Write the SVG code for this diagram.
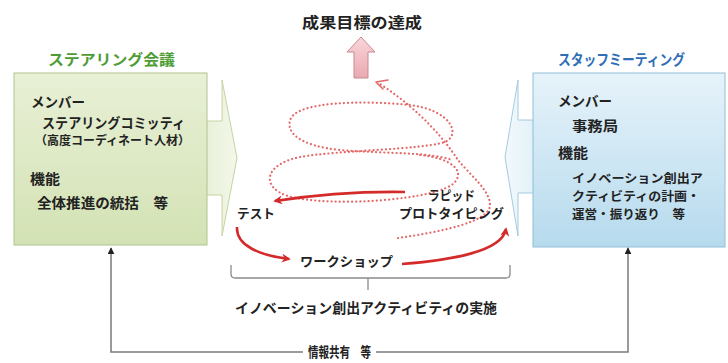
<svg xmlns="http://www.w3.org/2000/svg" width="728" height="363" viewBox="0 0 728 363">
<defs>
<linearGradient id="gBox" x1="0" y1="0" x2="0" y2="1"><stop offset="0" stop-color="#e8f0d6"/><stop offset="1" stop-color="#d3e2b4"/></linearGradient>
<linearGradient id="bBox" x1="0" y1="0" x2="0" y2="1"><stop offset="0" stop-color="#e6f3fa"/><stop offset="1" stop-color="#b6daed"/></linearGradient>
<linearGradient id="gArr" x1="0" y1="0" x2="1" y2="0"><stop offset="0" stop-color="#d6e4bc"/><stop offset="1" stop-color="#f3f7e9"/></linearGradient>
<linearGradient id="bArr" x1="0" y1="0" x2="1" y2="0"><stop offset="0" stop-color="#f2f9fc"/><stop offset="1" stop-color="#c0e0f0"/></linearGradient>
<linearGradient id="pArr" x1="0" y1="0" x2="0" y2="1"><stop offset="0" stop-color="#f9d6da"/><stop offset="1" stop-color="#e9a9b1"/></linearGradient>
<marker id="redHead" viewBox="0 0 10 10" refX="8" refY="5" markerWidth="9" markerHeight="9" markerUnits="userSpaceOnUse" orient="auto"><path d="M0,0 L10,5 L0,10 L3,5 Z" fill="#d42a2a"/></marker>
<marker id="grayHead" viewBox="0 0 10 10" refX="9" refY="5" markerWidth="7" markerHeight="7" markerUnits="userSpaceOnUse" orient="auto"><path d="M0,0 L10,5 L0,10 Z" fill="#222"/></marker>
<style>
text{font-family:"Noto Sans CJK JP","Noto Sans",sans-serif;font-weight:700;fill:#222}
.t14{font-size:14px}
.t13{font-size:13px}
.t12{font-size:12px}
.title{font-size:15px}
.dot{fill:none;stroke:#e46868;stroke-width:2.2;stroke-dasharray:0.1 4;stroke-linecap:round}
.red{fill:none;stroke:#d42a2a;stroke-width:2.6;marker-end:url(#redHead)}
.gray{fill:none;stroke:#7a7a7a;stroke-width:1.5}
</style>
</defs>
<rect width="728" height="363" fill="#ffffff"/>

<g id="steering">
<path d="M150,121 L222,121 L222,80 L237,158 L222,236 L222,195 L150,195 Z" fill="url(#gArr)" stroke="#c4d4a4" stroke-width="1"/>
<rect x="14" y="73" width="193" height="172" fill="url(#gBox)" stroke="#afc48e" stroke-width="1"/>
<text class="title" x="48" y="65" textLength="127" lengthAdjust="spacingAndGlyphs" style="fill:#4e9c34">ステアリング会議</text>
<text class="t14" x="31" y="107" textLength="54" lengthAdjust="spacingAndGlyphs">メンバー</text>
<text class="t14" x="42" y="128" textLength="143" lengthAdjust="spacingAndGlyphs">ステアリングコミッティ</text>
<text class="t12" x="35" y="145" textLength="155" lengthAdjust="spacingAndGlyphs">（高度コーディネート人材）</text>
<text class="t14" x="30" y="184" textLength="30" lengthAdjust="spacingAndGlyphs">機能</text>
<text class="t14" x="37" y="208" textLength="131" lengthAdjust="spacingAndGlyphs">全体推進の統括　等</text>
</g>

<g id="staff">
<path d="M600,120 L518,120 L518,80 L505,157 L518,236 L518,193 L600,193 Z" fill="url(#bArr)" stroke="#a6cade" stroke-width="1"/>
<rect x="533" y="73" width="192" height="174" fill="url(#bBox)" stroke="#92bed6" stroke-width="1"/>
<text class="title" x="558" y="65" textLength="127" lengthAdjust="spacingAndGlyphs" style="fill:#2f6fb6">スタッフミーティング</text>
<text class="t14" x="558" y="106" textLength="54" lengthAdjust="spacingAndGlyphs">メンバー</text>
<text class="t14" x="572" y="131" textLength="46" lengthAdjust="spacingAndGlyphs">事務局</text>
<text class="t14" x="558" y="158" textLength="30" lengthAdjust="spacingAndGlyphs">機能</text>
<text class="t12" x="572" y="183" textLength="131" lengthAdjust="spacingAndGlyphs">イノベーション創出ア</text>
<text class="t12" x="572" y="201" textLength="128" lengthAdjust="spacingAndGlyphs">クティビティの計画・</text>
<text class="t12" x="572" y="219" textLength="113" lengthAdjust="spacingAndGlyphs">運営・振り返り　等</text>
</g>

<g id="goal">
<path d="M361,37 L375,52 L368,52 L368,78 L354,78 L354,52 L347,52 Z" fill="url(#pArr)" stroke="#c98890" stroke-width="1"/>
<text class="title" x="302" y="28" textLength="120" lengthAdjust="spacingAndGlyphs">成果目標の達成</text>
</g>

<g id="connectors">
<path class="dot" d="M420,155 C450,158 465,170 455,182 C440,200 330,208 288,196 C262,188 262,165 300,157 C340,150 420,150 445,142 C462,134 450,110 410,105 C360,100 300,102 291,118 C284,132 300,146 340,150 C390,154 430,152 452,160"/>
<path class="dot" d="M398,238 C440,232 490,222 490,205 C490,190 470,175 458,160 C445,140 420,110 380,84"/>
<path d="M388,80 L376,82 L383,89" fill="none" stroke="#e46868" stroke-width="1.6" stroke-linecap="round" stroke-linejoin="round"/>
<path class="red" d="M405,192 Q340,191 275,201"/>
<path class="red" d="M237,227 C236,245 258,255 289,259"/>
<path class="red" d="M402,264 C450,260 502,252 506,229"/>
<path d="M231,265 L231,274 Q231,278 235,278 L506,278 Q510,278 510,274 L510,265 M368,278 L368,290" fill="none" stroke="#8a8a8a" stroke-width="1.3"/>
<path class="gray" d="M303,352 L111,352 L111,248" marker-end="url(#grayHead)"/>
<path class="gray" d="M376,352 L628,352 L628,248" marker-end="url(#grayHead)"/>
</g>

<g id="labels">
<text class="t13" x="237" y="218" textLength="38" lengthAdjust="spacingAndGlyphs">テスト</text>
<text class="t13" x="428" y="200" textLength="47" lengthAdjust="spacingAndGlyphs">ラピッド</text>
<text class="t13" x="399" y="218" textLength="105" lengthAdjust="spacingAndGlyphs">プロトタイピング</text>
<text class="t13" x="300" y="266" textLength="93" lengthAdjust="spacingAndGlyphs">ワークショップ</text>
<text class="t14" x="235" y="313" textLength="262" lengthAdjust="spacingAndGlyphs">イノベーション創出アクティビティの実施</text>
<text class="t14" x="308" y="357" textLength="63" lengthAdjust="spacingAndGlyphs">情報共有　等</text>
</g>
</svg>
